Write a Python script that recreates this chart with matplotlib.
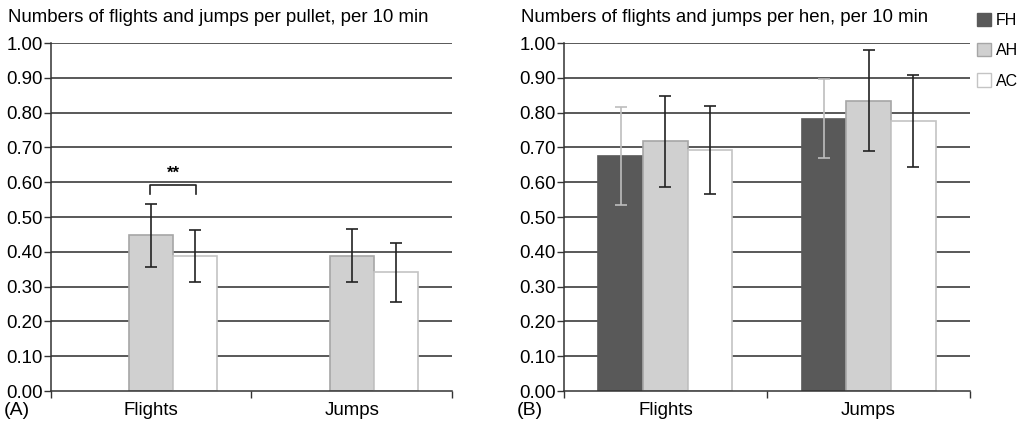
import numpy as np
import matplotlib.pyplot as plt
from matplotlib.patches import Patch

plt.rcParams['font.family'] = ['Liberation Sans', 'DejaVu Sans']

categories = ['Flights', 'Jumps']
groups = ['FH', 'AH', 'AC']

# (A) pullets: no FH group
pullet_ah = [0.447, 0.389]
pullet_ah_err = [0.090, 0.077]
pullet_ac = [0.388, 0.341]
pullet_ac_err = [0.075, 0.085]

# (B) hens
hen_fh = [0.676, 0.783]
hen_fh_err = [0.141, 0.114]
hen_ah = [0.717, 0.834]
hen_ah_err = [0.131, 0.145]
hen_ac = [0.692, 0.776]
hen_ac_err = [0.127, 0.132]

fill = {'FH': '#595959', 'AH': '#d0d0d0', 'AC': '#ffffff'}
edge = {'FH': '#595959', 'AH': '#a6a6a6', 'AC': '#c4c4c4'}
errc = {'FH': '#bdbdbd', 'AH': '#222222', 'AC': '#222222'}
offset = {'FH': -0.22, 'AH': 0.0, 'AC': 0.22}
w = 0.22
fs = 13.4

fig = plt.figure(figsize=(10.28, 4.28), dpi=100)
axA = fig.add_axes([0.0496, 0.0864, 0.390, 0.8131])
axB = fig.add_axes([0.5486, 0.0864, 0.395, 0.8131])

x = np.arange(len(categories))


def style(ax):
    ax.set_xlim(-0.5, 1.5)
    ax.set_ylim(0, 1.0)
    ax.set_yticks(np.arange(0, 1.01, 0.1))
    ax.set_yticklabels([f'{v:.2f}' for v in np.arange(0, 1.01, 0.1)], fontsize=fs)
    for v in np.arange(0.1, 1.01, 0.1):
        ax.axhline(v, color='#2b2b2b', lw=1.1, zorder=0)
    ax.set_xticks([-0.5, 0.5, 1.5])
    ax.set_xticklabels([])
    ax.set_xticks(x, minor=True)
    ax.set_xticklabels(categories, minor=True, fontsize=fs)
    ax.tick_params(axis='x', which='minor', length=0, pad=8)
    ax.tick_params(axis='x', which='major', length=5, width=1, color='#333333')
    ax.tick_params(axis='y', length=5, width=1, color='#333333', pad=1)
    for s in ['top', 'right']:
        ax.spines[s].set_visible(False)
    for s in ['left', 'bottom']:
        ax.spines[s].set_color('#333333')
        ax.spines[s].set_linewidth(1.1)


def bars(ax, g, vals, errs):
    ax.bar(x + offset[g], vals, w, color=fill[g], edgecolor=edge[g], lw=1.2, zorder=2)
    ax.errorbar(x + offset[g], vals, yerr=errs, fmt='none', ecolor=errc[g],
                elinewidth=1.2, capsize=4, capthick=1.2, zorder=3)


style(axA)
bars(axA, 'AH', pullet_ah, pullet_ah_err)
bars(axA, 'AC', pullet_ac, pullet_ac_err)
# significance bracket
axA.plot([-0.006, -0.006, 0.224, 0.224], [0.566, 0.592, 0.592, 0.566], color='#222222', lw=1.2, zorder=3)
axA.text(0.11, 0.603, '**', ha='center', va='bottom', fontsize=12, fontweight='bold')

style(axB)
bars(axB, 'FH', hen_fh, hen_fh_err)
bars(axB, 'AH', hen_ah, hen_ah_err)
bars(axB, 'AC', hen_ac, hen_ac_err)

fig.text(0.008, 0.96, 'Numbers of flights and jumps per pullet, per 10 min', fontsize=fs, va='center')
fig.text(0.507, 0.96, 'Numbers of flights and jumps per hen, per 10 min', fontsize=fs, va='center')
fig.text(0.004, 0.042, '(A)', fontsize=14, va='center')
fig.text(0.503, 0.042, '(B)', fontsize=14, va='center')

handles = [Patch(facecolor=fill[g], edgecolor=edge[g], lw=1) for g in groups]
fig.legend(handles, groups, loc='upper left', bbox_to_anchor=(0.944, 0.985), frameon=False,
           fontsize=11.5, handlelength=0.9, handleheight=0.9, handletextpad=0.3,
           labelspacing=0.95, borderaxespad=0)

fig.savefig('out.png', dpi=100)
